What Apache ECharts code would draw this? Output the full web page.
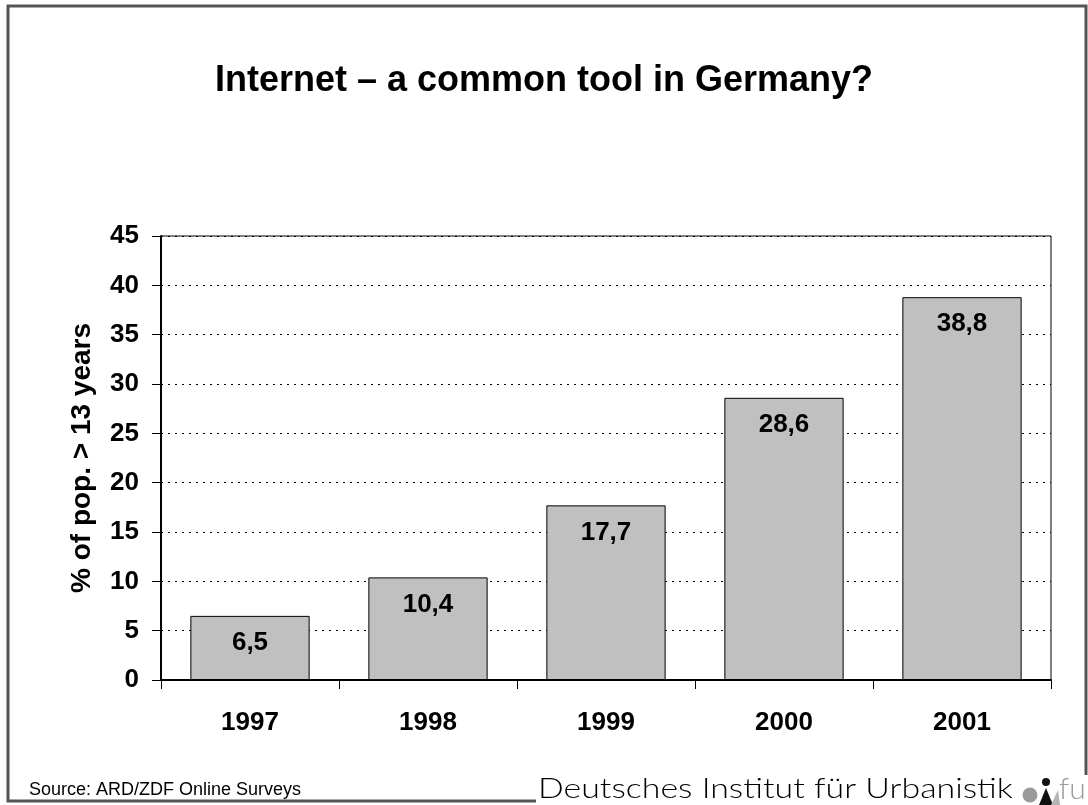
<!DOCTYPE html>
<html>
<head>
<meta charset="utf-8">
<script src="https://cdn.jsdelivr.net/npm/echarts@6/dist/echarts.min.js"></script>
<style>
  html, body { margin: 0; padding: 0; background: #fff; }
  #chart { width: 1088px; height: 805px; }
</style>
</head>
<body>
<div id="chart"></div>
<script>
// Internet users in Germany, share of population older than 13 years
const years = ['1997', '1998', '1999', '2000', '2001'];
const shares = [6.5, 10.4, 17.7, 28.6, 38.8];
const yTicks = { min: 0, max: 45, step: 5 };

const titleText = 'Internet \u2013 a common tool in Germany?';
const yAxisTitle = '% of pop. > 13 years';
const sourceText = 'Source: ARD/ZDF Online Surveys';
const instituteText = 'Deutsches Institut f\u00fcr Urbanistik';

const chart = echarts.init(document.getElementById('chart'), null, { renderer: 'canvas' });

const sans = '"Liberation Sans", Arial, sans-serif';

chart.setOption({
  backgroundColor: '#ffffff',
  animation: false,
  title: {
    text: titleText,
    left: 'center',
    top: 58,
    textStyle: { fontFamily: sans, fontWeight: 'bold', fontSize: 36, color: '#000' }
  },
  grid: {
    left: 161, right: 37, top: 236, bottom: 125,
    show: true, borderColor: '#000', borderWidth: 1, backgroundColor: 'transparent'
  },
  xAxis: {
    type: 'category',
    data: years,
    boundaryGap: true,
    axisLine: { lineStyle: { color: '#000', width: 2 } },
    axisTick: { show: true, length: 9, inside: false, lineStyle: { color: '#000', width: 1 } },
    axisLabel: {
      fontFamily: sans, fontWeight: 'bold', fontSize: 26, color: '#000', margin: 30
    }
  },
  yAxis: {
    type: 'value',
    min: yTicks.min, max: yTicks.max, interval: yTicks.step,
    name: yAxisTitle,
    nameLocation: 'middle',
    nameGap: 65,
    nameRotate: 90,
    nameTextStyle: { fontFamily: sans, fontWeight: 'bold', fontSize: 28, color: '#000' },
    axisLine: { show: true, lineStyle: { color: '#000', width: 2 } },
    axisTick: { show: true, length: 9, lineStyle: { color: '#000', width: 1 } },
    axisLabel: { fontFamily: sans, fontWeight: 'bold', fontSize: 26, color: '#000', margin: 22 },
    splitLine: { show: true, lineStyle: { color: '#000', type: [2, 5], width: 1 } }
  },
  series: [{
    type: 'bar',
    data: shares,
    barWidth: '67%',
    itemStyle: { color: '#c0c0c0', borderColor: '#000', borderWidth: 1 },
    label: {
      show: true,
      position: 'insideTop',
      distance: 14,
      fontFamily: sans, fontWeight: 'bold', fontSize: 26, color: '#000',
      formatter: p => String(p.value).replace('.', ',')
    }
  }],
  graphic: [
    // page frame, open at the lower right where the institute line sits
    {
      type: 'polyline', z: 100,
      shape: { points: [[1086, 775], [1086, 6], [8, 6], [8, 801], [536, 801]] },
      style: { stroke: '#555', lineWidth: 3, fill: null }
    },
    {
      type: 'text', left: 29, top: 781, z: 100,
      style: { text: sourceText, font: '18px ' + sans, fill: '#000' }
    },
    {
      type: 'text', x: 538, y: 803, z: 100, scaleX: 1.21,
      style: { text: instituteText, font: '300 28px Lato, "Open Sans", sans-serif', fill: '#000', verticalAlign: 'bottom' }
    },
    // difu mark
    { type: 'circle', z: 100, shape: { cx: 1030, cy: 795, r: 7.5 }, style: { fill: '#9a9a9a' } },
    { type: 'polygon', z: 100, shape: { points: [[1039, 805], [1046, 788], [1053, 805]] }, style: { fill: '#111' } },
    { type: 'circle', z: 100, shape: { cx: 1046, cy: 782, r: 4 }, style: { fill: '#111' } },
    { type: 'polygon', z: 100, shape: { points: [[1051, 805], [1058, 790], [1060, 805]] }, style: { fill: '#b4b4b4' } },
    {
      type: 'text', x: 1059, y: 804, z: 100,
      style: { text: 'fu', font: '300 30px Lato, sans-serif', fill: '#9a9a9a', verticalAlign: 'bottom' }
    }
  ]
});
</script>
</body>
</html>
